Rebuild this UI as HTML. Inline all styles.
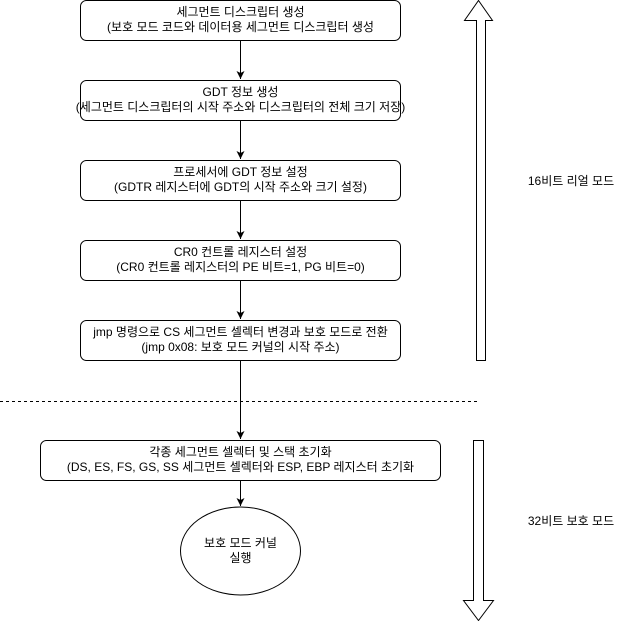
<!DOCTYPE html>
<html><head><meta charset="utf-8"><style>
body{margin:0;background:#fff}
svg text{font-family:"Liberation Sans","Noto Sans CJK KR",sans-serif;font-size:12px;fill:#000}
</style></head><body>
<svg width="621" height="621" viewBox="0 0 621 621" xmlns="http://www.w3.org/2000/svg">
<defs><marker id="a" markerWidth="10" markerHeight="10" refX="8" refY="5" orient="auto" markerUnits="userSpaceOnUse"><path d="M0,1 L8,5 L0,9 L2,5 Z" fill="#000"/></marker></defs>
<g fill="#fff" stroke="#000" stroke-width="1">
<rect x="80.5" y="0.5" width="320" height="40" rx="6"/>
<rect x="80.5" y="80.5" width="320" height="40" rx="6"/>
<rect x="80.5" y="160.5" width="320" height="40" rx="6"/>
<rect x="80.5" y="240.5" width="320" height="40" rx="6"/>
<rect x="80.5" y="320.5" width="320" height="40" rx="6"/>
<rect x="40.5" y="440.5" width="400" height="40" rx="6"/>
<ellipse cx="240.5" cy="551" rx="60" ry="44"/>
<path d="M476.5,360.5 V20.5 H464.5 L478.5,0.5 L492.5,20.5 H485.5 V360.5 Z"/>
<path d="M473.5,440.5 V600.5 H463.5 L478.5,620.5 L493.5,600.5 H483.5 V440.5 Z"/>
</g>
<g stroke="#000" stroke-width="1" marker-end="url(#a)">
<line x1="240.5" y1="41" x2="240.5" y2="79"/>
<line x1="240.5" y1="121" x2="240.5" y2="159"/>
<line x1="240.5" y1="201" x2="240.5" y2="239"/>
<line x1="240.5" y1="281" x2="240.5" y2="319"/>
<line x1="240.5" y1="361" x2="240.5" y2="439"/>
<line x1="240.5" y1="481" x2="240.5" y2="506"/>
</g>
<line x1="0" y1="401.5" x2="478" y2="401.5" stroke="#000" stroke-dasharray="3,3"/>
<g text-anchor="middle">
<text x="240.5" y="16">세그먼트 디스크립터 생성</text>
<text x="240.5" y="31">(보호 모드 코드와 데이터용 세그먼트 디스크립터 생성</text>
<text x="240.5" y="96">GDT 정보 생성</text>
<text x="240.5" y="111">(세그먼트 디스크립터의 시작 주소와 디스크립터의 전체 크기 저장)</text>
<text x="240.5" y="176">프로세서에 GDT 정보 설정</text>
<text x="240.5" y="191">(GDTR 레지스터에 GDT의 시작 주소와 크기 설정)</text>
<text x="240.5" y="256">CR0 컨트롤 레지스터 설정</text>
<text x="240.5" y="271">(CR0 컨트롤 레지스터의 PE 비트=1, PG 비트=0)</text>
<text x="240.5" y="336">jmp 명령으로 CS 세그먼트 셀렉터 변경과 보호 모드로 전환</text>
<text x="240.5" y="351">(jmp 0x08: 보호 모드 커널의 시작 주소)</text>
<text x="240.5" y="456">각종 세그먼트 셀렉터 및 스택 초기화</text>
<text x="240.5" y="471">(DS, ES, FS, GS, SS 세그먼트 셀렉터와 ESP, EBP 레지스터 초기화</text>
<text x="240.5" y="547">보호 모드 커널</text>
<text x="240.5" y="562">실행</text>
<text x="571" y="185">16비트 리얼 모드</text>
<text x="571" y="525">32비트 보호 모드</text>
</g>
</svg>
</body></html>
